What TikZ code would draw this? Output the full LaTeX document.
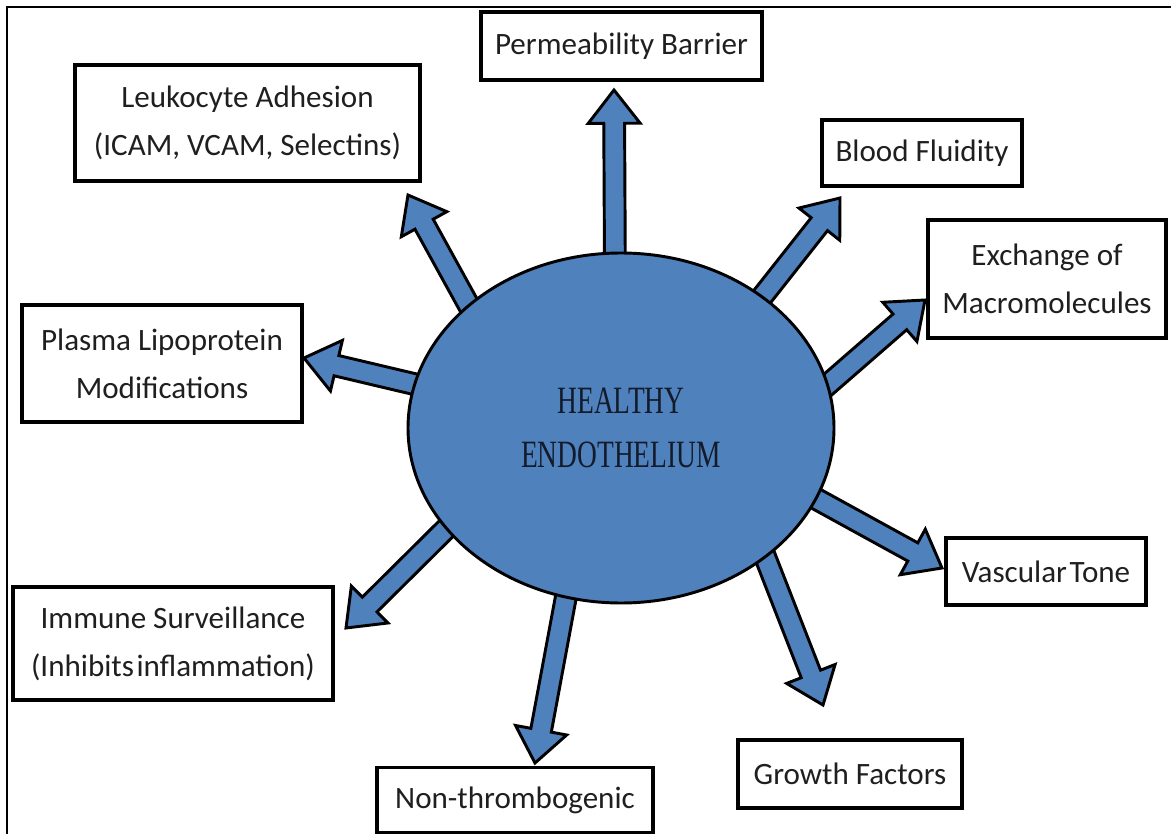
\documentclass[tikz,border=0pt]{standalone}
\usepackage{fontspec}
\setmainfont{Carlito}
\newfontfamily\headfont[FakeStretch=0.71]{Liberation Serif}
\usepackage{tikz}
\usepackage{xcolor}
\usetikzlibrary{calc,backgrounds,shapes.geometric}

\definecolor{ellblue}{HTML}{4F81BD}
\definecolor{inkblue}{HTML}{131B2B}

% block arrow from a point on the ellipse border (#1) to a tip coordinate (#2)
\newcommand{\flowarrow}[2]{%
  \coordinate (tail) at ($(#1)!-14pt!(#2)$);
  \coordinate (neck) at ($(#2)!25pt!(#1)$);
  \draw[arrowbody] ($(tail)!7.8pt!90:(#2)$) -- ($(neck)!7.8pt!90:(#2)$) -- ($(neck)!19.5pt!90:(#2)$) -- (#2)
    -- ($(neck)!19.5pt!-90:(#2)$) -- ($(neck)!7.8pt!-90:(#2)$) -- ($(tail)!7.8pt!-90:(#2)$) -- cycle;%
}

\begin{document}
\begin{tikzpicture}[x=0.75pt, y=-0.75pt,
    box/.style={rectangle, draw, line width=2.4pt, inner sep=0pt, align=center,
      text=black!88, font=\fontsize{23.3}{36}\selectfont},
    boxdim/.style 2 args={minimum width=#1*0.75pt, minimum height=#2*0.75pt},
    arrowbody/.style={draw=black, fill=ellblue, line width=2.2pt, line join=miter}]
        \useasboundingbox (0,0) rectangle (1171,834);

        % outer frame (only top and left edges are visible)
        \draw[line width=2pt] (7,834) -- (7,7) -- (1171,7);

        % central ellipse
        \node[ellipse, draw, line width=2.2pt, fill=ellblue, inner sep=0pt,
          minimum width=426*0.75pt, minimum height=350*0.75pt,
          text=inkblue, align=center, font=\headfont\fontsize{29}{41}\selectfont] (ell) at (621,428)
          {HEALTHY\\ENDOTHELIUM};

        % function boxes
        \node[box, boxdim={281}{68}] (perm) at (621.5,46) {Permeability Barrier};
        \node[box, boxdim={345}{116}] (leuk) at (247.5,123) {Leukocyte Adhesion\\(ICAM, VCAM, Selectins)};
        \node[box, boxdim={200}{66}] (blood) at (922,153) {Blood Fluidity};
        \node[box, boxdim={238}{118}] (exch) at (1047,279) {Exchange of\\Macromolecules};
        \node[box, boxdim={280}{117}] (plasma) at (162,363.5) {Plasma Lipoprotein\\Modifications};
        \node[box, boxdim={200}{67}] (vasc) at (1046,571.5) {Vascular\hspace{2pt}Tone};
        \node[box, boxdim={224}{68}] (growth) at (850,774) {Growth Factors};
        \node[box, boxdim={276}{65}] (nonth) at (515,800) {Non-thrombogenic};
        \node[box, boxdim={320}{113}] (immune) at (173,643.5) {Immune Surveillance\\(Inhibits\hspace{2pt}inflammation)};

        % arrow tips
        \coordinate (tipPerm) at (614,90);
        \coordinate (tipLeuk) at (408,195);
        \coordinate (tipBlood) at (840,198);
        \coordinate (tipExch) at (925,300);
        \coordinate (tipPlasma) at (304,358);
        \coordinate (tipVasc) at (942,568);
        \coordinate (tipGrowth) at (823,705);
        \coordinate (tipNonth) at (535,763);
        \coordinate (tipImmune) at (346,628);

        % block arrows behind the ellipse
        \begin{scope}[on background layer]
          \foreach \a/\t in {92/tipPerm, 141/tipLeuk, 43/tipBlood, 12/tipExch, 168/tipPlasma,
                             340/tipVasc, 318/tipGrowth, 252/tipNonth, 210/tipImmune} {
            \flowarrow{ell.\a}{\t}
          }
        \end{scope}
      \end{tikzpicture}
\end{document}
